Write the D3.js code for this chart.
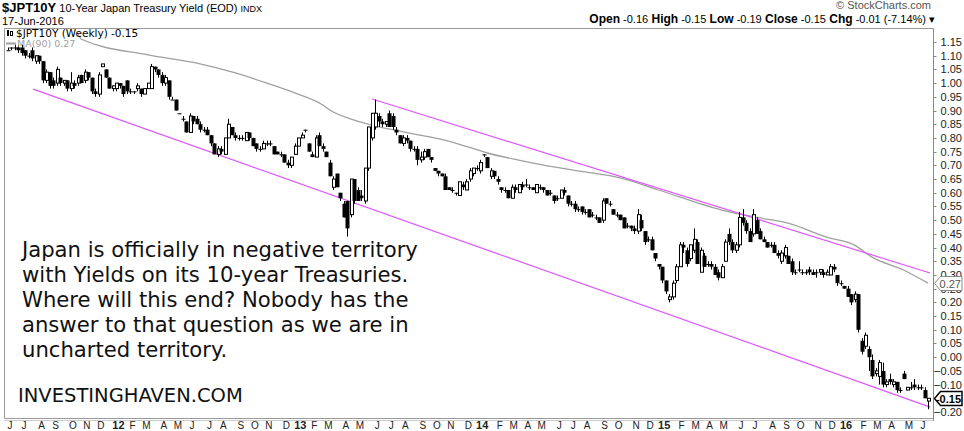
<!DOCTYPE html>
<html>
<head>
<meta charset="utf-8">
<script src="https://cdn.jsdelivr.net/npm/d3@7"></script>
<style>
  body { margin: 0; background: #fff; }
  svg { display: block; }
</style>
</head>
<body>
<div id="chart"></div>
<script>
"use strict";

// SECTION: data (weekly bars, yields in basis points)
const firstWeek = new Date(2011, 5, 3);
const lastWeek = new Date(2016, 5, 17);

const openBp = [112,113,113,113,113,112,110,112,108,110, 108,101,104,101,100,102,100,101,98,100,
  100,103,101,104,102,97,96,106,105,102, 98,98,100,99,101,97,97,98,98,96,
  98,98,106,105,103,100,101,94,94,89, 87,86,82,88,87,85,83,83,81,78,
  74,76,74,80,84,81,80,80,79,82,80, 78,76,76,78,78,77,75,74,74,71,
  70,74,77,80,83,78,74,73,81,77, 75,71,62,67,60,56,57,52,65,61,
  59,57,69,80,84,88,86,85,89,88, 83,81,78,80,79,76,76,72,73,76,
  73,69,68,67,66,62,61,60,59,63, 61,65,67,69,68,74,73,66,68,65,
  62,61,61,58,62,60,63,63,62,62, 60,62,62,61,60,59,58,58,61,59,
  56,56,54,55,53,54,52,51,51,50, 58,56,54,52,52,51,48,48,47,46,
  50,46,43,43,38,34,33,28,21,22, 28,33,41,39,36,39,42,31,37,34,34,
  33,31,29,35,45,42,39,41,51,49, 46,45,50,46,43,42,41,41,38,35,
  37,37,35,31,32,31,31,32,31,31, 31,31,30,30,33,30,27,26,25,23,
  21,23,6,4,3,-1,-6,-7,-5,-10, -8,-10,-9,-12,-6,-12,-11,-10,-11,-11,
  -12,-16];
const highBp = [113,113,114,114,114,112,111,113,110,110, 108,105,104,102,106,102,101,101,104,101,
  103,103,105,104,102,98,104,107,105,102, 99,100,100,99,101,98,97,100,98,98,
  100,107,106,105,104,103,101,95,94,89, 88,86,89,88,88,86,84,84,81,78,
  77,77,80,87,84,82,81,81,82,82,80, 78,77,79,79,79,77,75,75,74,72,
  73,78,80,82,83,78,75,81,82,78, 75,72,66,67,60,57,57,65,65,62,
  61,69,84,89,94,89,87,86,90,89, 84,81,81,81,79,77,77,75,76,76,
  73,69,68,67,67,62,62,60,64,64, 65,69,69,70,72,74,73,69,68,66,
  62,62,61,63,63,63,64,65,63,62, 63,63,62,61,61,59,59,61,62,59,
  57,57,55,55,54,54,53,52,51,58, 58,57,54,53,52,51,49,48,48,54,
  52,46,44,44,38,34,33,28,23,28, 34,42,42,40,41,47,43,40,38,35,35,
  34,32,34,43,47,43,42,53,54,50, 47,54,51,47,44,42,42,42,39,39,
  41,37,36,32,35,32,32,33,32,32, 32,32,32,34,34,30,28,26,26,23,
  24,23,7,9,4,1,-4,-1,-2,-8, -6,-8,-9,-11,-5,-11,-9,-8,-10,-10,
  -11,-15];
const lowBp = [112,112,112,111,110,109,109,108,107,107, 100,100,98,98,99,99,99,97,97,98,
  99,100,100,101,96,95,95,106,102,98, 97,97,98,95,96,96,96,97,95,96,
  98,98,104,102,99,99,94,94,90,89, 86,82,82,85,85,82,82,81,77,74,
  73,74,74,80,81,79,79,79,79,79,77, 75,75,76,77,77,74,74,73,71,69,
  69,74,77,80,82,75,73,73,77,75, 73,66,61,62,57,51,44,51,56,57,
  57,56,68,79,83,84,84,84,84,83, 81,78,77,78,75,75,70,71,72,73,
  71,68,66,66,61,61,60,59,59,61, 61,64,66,68,67,73,69,65,65,63,
  60,60,58,58,60,60,61,62,61,61, 60,61,60,59,59,56,57,58,59,55,
  55,53,53,52,52,51,51,50,49,49, 56,55,52,51,50,47,47,46,45,45,
  46,41,42,39,35,32,27,23,20,21, 27,33,38,33,35,38,34,31,33,33,32,
  30,28,29,35,41,38,38,40,48,45, 42,44,45,43,42,40,40,38,36,34,
  36,34,30,30,31,30,30,30,30,29, 30,29,30,30,31,26,26,25,22,19,
  20,9,1,3,-5,-8,-7,-10,-11,-11, -10,-11,-13,-13,-8,-12,-12,-12,-12,-12,
  -15,-19];
const closeBp = [112,113,113,112,111,110,110,109,110,108, 101,104,99,99,105,100,101,98,100,99,
  102,100,104,102,97,96,103,107,102,98, 99,100,99,96,97,97,97,99,96,98,
  100,106,105,103,100,102,95,94,90,89, 87,82,88,86,85,83,83,81,78,74,
  76,75,80,85,81,80,80,80,82,80,77, 76,76,78,78,78,74,74,74,71,70,
  73,77,80,81,83,75,73,80,77,76, 73,66,65,62,58,51,47,65,57,57,
  58,69,84,89,89,86,85,86,84,84, 82,78,80,79,76,76,72,73,75,73,
  72,68,67,66,61,61,61,60,64,62, 64,68,69,69,71,74,69,68,66,64,
  61,61,58,62,61,63,62,63,62,61, 63,62,61,59,60,57,58,61,60,56,
  56,54,54,53,53,51,52,51,49,57, 56,56,52,52,50,47,48,47,46,52,
  47,42,43,39,36,33,28,24,22,27, 33,41,40,34,41,43,34,39,33,34,33,
  30,29,33,42,42,39,41,51,49,46, 42,52,45,43,42,40,41,38,37,38,
  40,34,31,31,32,31,31,31,30,31, 32,30,31,33,32,27,27,25,22,20,
  23,10,2,8,0,-7,-5,-2,-10,-9, -9,-9,-12,-12,-8,-11,-11,-11,-11,-11,
  -15,-15];

// MA(90): week number and value
const maWeek  = [20, 21, 40, 54, 65, 74, 82, 90, 92, 99, 104, 113, 127, 137, 146, 156, 165, 175, 186, 204, 215, 223, 234, 242, 247, 256, 263];
const maValue = [1.18, 1.16, 1.103, 1.073, 1.037, 1.0, 0.964, 0.92, 0.902, 0.865, 0.847, 0.822, 0.785, 0.745, 0.719, 0.694, 0.676, 0.654, 0.61, 0.537, 0.508, 0.489, 0.438, 0.409, 0.365, 0.318, 0.27];

// trend channel drawn on the chart: [week, value]
const lowerChannel = [[7.2, 0.978], [263.6, -0.182]];
const upperChannel = [[104.1, 0.942], [263.6, 0.307]];

const yTicks = [1.15, 1.10, 1.05, 1.00, 0.95, 0.90, 0.85, 0.80, 0.75, 0.70, 0.65, 0.60, 0.55, 0.50, 0.45, 0.40,
  0.35, 0.30, 0.25, 0.20, 0.15, 0.10, 0.05, 0.00, -0.05, -0.10, -0.15, -0.20];
const monthLetters = ["J","F","M","A","M","J","J","A","S","O","N","D"];

const noteLines = [
  "Japan is officially in negative territory",
  "with Yields on its 10-year Treasuries.",
  "Where will this end? Nobody has the",
  "answer to that question as we are in",
  "uncharted territory."
];

// SECTION: build bars
const weeks = d3.timeFriday.range(firstWeek, d3.timeDay.offset(lastWeek, 1));
const bars = weeks.map((d, i) => ({
  date: d, i: i,
  o: openBp[i] / 100, h: highBp[i] / 100, l: lowBp[i] / 100, c: closeBp[i] / 100
}));

const W = 964, H = 431;
const plot = { left: 4.5, right: 933.5, top: 28.5, bottom: 418.5 };

const x = d3.scaleLinear().domain([0, weeks.length - 1]).range([8, 928]);
const y = d3.scaleLinear().domain([-0.20, 1.15]).range([412, 42]);

const svg = d3.select("#chart").append("svg")
  .attr("width", W).attr("height", H)
  .style("font-family", "'Liberation Sans', Arial, sans-serif");

svg.append("defs").append("clipPath").attr("id", "plotclip")
  .append("rect")
  .attr("x", plot.left).attr("y", plot.top)
  .attr("width", plot.right - plot.left).attr("height", plot.bottom - plot.top);

// SECTION: header
const title = svg.append("text").attr("x", 2).attr("y", 12).attr("fill", "#000");
title.append("tspan").style("font-weight", "bold").style("font-size", "13px").text("$JPT10Y");
title.append("tspan").style("font-size", "11px").text(" 10-Year Japan Treasury Yield (EOD) ");
title.append("tspan").style("font-size", "9px").text("INDX");

svg.append("text").attr("x", 2).attr("y", 25).style("font-size", "11px").text("17-Jun-2016");

svg.append("text").attr("x", 931).attr("y", 9).attr("text-anchor", "end")
  .style("font-size", "11px").attr("fill", "#555").text("\u00A9 StockCharts.com");

const quote = svg.append("text").attr("x", 935).attr("y", 23).attr("text-anchor", "end")
  .style("font-size", "11px").attr("fill", "#000");
[["Open", "-0.16"], ["High", "-0.15"], ["Low", "-0.19"], ["Close", "-0.15"], ["Chg", "-0.01 (-7.14%) \u25BE"]]
  .forEach((p, k) => {
    quote.append("tspan").style("font-weight", "bold").style("font-size", "12px").text((k ? "  " : "") + p[0]);
    quote.append("tspan").text(" " + p[1]);
  });

// SECTION: frame and axes
svg.append("line").attr("x1", plot.left).attr("x2", plot.right).attr("y1", plot.top).attr("y2", plot.top)
  .attr("stroke", "#999");
svg.append("line").attr("x1", plot.left).attr("x2", plot.left).attr("y1", plot.top).attr("y2", plot.bottom)
  .attr("stroke", "#999");
svg.append("line").attr("x1", plot.left).attr("x2", plot.right).attr("y1", plot.bottom).attr("y2", plot.bottom)
  .attr("stroke", "#999");
svg.append("line").attr("x1", plot.right).attr("x2", plot.right).attr("y1", plot.top).attr("y2", plot.bottom + 2)
  .attr("stroke", "#888");
svg.append("line").attr("x1", plot.left).attr("x2", plot.right).attr("y1", plot.bottom + 2).attr("y2", plot.bottom + 2)
  .attr("stroke", "#999").attr("stroke-dasharray", "1,1");

const yAxis = svg.append("g");
yAxis.selectAll("line").data(yTicks).enter().append("line")
  .attr("x1", plot.right).attr("x2", plot.right + 3)
  .attr("y1", d => Math.round(y(d)) + 0.5).attr("y2", d => Math.round(y(d)) + 0.5)
  .attr("stroke", "#888");
yAxis.selectAll("text").data(yTicks).enter().append("text")
  .attr("x", 962).attr("y", d => y(d) + 4)
  .attr("text-anchor", "end")
  .style("font-size", "11px").attr("fill", "#222")
  .text(d => d3.format(".2f")(d));

// month labels at the first bar of each month
const monthStarts = bars.filter((b, i) => i === 0 || b.date.getMonth() !== bars[i - 1].date.getMonth());
svg.append("g").selectAll("text").data(monthStarts).enter().append("text")
  .attr("x", d => x(d.i) + 2).attr("y", 429)
  .attr("text-anchor", "middle")
  .style("font-size", d => d.date.getMonth() === 0 ? "11px" : "10px")
  .style("font-weight", d => d.date.getMonth() === 0 ? "bold" : "normal")
  .attr("fill", "#222")
  .text(d => d.date.getMonth() === 0 ? d3.timeFormat("%y")(d.date) : monthLetters[d.date.getMonth()]);

// SECTION: chart body
const body = svg.append("g").attr("clip-path", "url(#plotclip)");

const ma = d3.line().x((d, k) => x(maWeek[k])).y(d => y(d)).curve(d3.curveMonotoneX);
body.append("path").attr("d", ma(maValue))
  .attr("fill", "none").attr("stroke", "#a0a0a0").attr("stroke-width", 1.3);

[lowerChannel, upperChannel].forEach(seg => {
  body.append("line")
    .attr("x1", x(seg[0][0])).attr("y1", y(seg[0][1]))
    .attr("x2", x(seg[1][0])).attr("y2", y(seg[1][1]))
    .attr("stroke", "#dd55ff").attr("stroke-width", 1.2);
});

const candles = body.append("g");
candles.selectAll("line.wick").data(bars).enter().append("line")
  .attr("class", "wick")
  .attr("x1", d => Math.round(x(d.i)) + 0.5).attr("x2", d => Math.round(x(d.i)) + 0.5)
  .attr("y1", d => y(d.h)).attr("y2", d => y(d.l))
  .attr("stroke", "#000").attr("stroke-width", 1);

candles.selectAll("rect").data(bars).enter().append("rect")
  .attr("x", d => Math.round(x(d.i)) - 1)
  .attr("y", d => y(Math.max(d.o, d.c)))
  .attr("width", d => d.c > d.o ? 3 : 4)
  .attr("height", d => Math.max(1, y(Math.min(d.o, d.c)) - y(Math.max(d.o, d.c))))
  .attr("fill", d => d.c > d.o ? "#fff" : "#000")
  .attr("stroke", d => d.c > d.o ? "#000" : "none")
  .attr("stroke-width", 1)
  .attr("transform", d => d.c > d.o ? "translate(0.5,0)" : "translate(-0.5,0)");

// SECTION: legend inside the plot
const leg = svg.append("g").style("font-family", "'DejaVu Sans', Verdana, sans-serif").style("font-size", "10.5px");
leg.append("rect").attr("x", 7).attr("y", 30).attr("width", 2).attr("height", 6).attr("fill", "#000");
leg.append("rect").attr("x", 10.5).attr("y", 31.5).attr("width", 2).attr("height", 4).attr("fill", "#fff").attr("stroke", "#000");
leg.append("text").attr("x", 16).attr("y", 36.5).attr("fill", "#000").text("$JPT10Y (Weekly) -0.15");
leg.append("line").attr("x1", 6).attr("x2", 16).attr("y1", 43.5).attr("y2", 43.5).attr("stroke", "#a0a0a0").attr("stroke-width", 2);
leg.append("text").attr("x", 17).attr("y", 47).attr("fill", "#a0a0a0").style("font-size", "9.5px").text("MA(90) 0.27");

// SECTION: value tags on the right axis
function tag(v, label, dark) {
  const yy = Math.round(y(v)) + 0.5;
  svg.append("path")
    .attr("d", `M${plot.right + 1},${yy} L${plot.right + 7},${yy - 7} H962 V${yy + 7} H${plot.right + 7} Z`)
    .attr("fill", "#fff").attr("stroke", dark ? "#000" : "#888").attr("stroke-width", dark ? 1.5 : 1);
  svg.append("text").attr("x", 961).attr("y", yy + 4).attr("text-anchor", "end")
    .style("font-size", "11px").style("font-weight", dark ? "bold" : "normal")
    .attr("fill", dark ? "#000" : "#555").text(label);
}
tag(maValue[maValue.length - 1], "0.27", false);
tag(bars[bars.length - 1].c, "-0.15", true);

// SECTION: annotation text
const note = svg.append("g").style("font-family", "'DejaVu Sans', Verdana, sans-serif").attr("fill", "#111");
const noteText = note.selectAll("text").data(noteLines).enter().append("text")
  .attr("x", 22).attr("y", (d, k) => 257 + k * 25)
  .style("font-size", "18px")
  .text(d => d);
// first line runs out to about x = 418 in the original
const firstLen = noteText.node().getComputedTextLength();
noteText.style("font-size", (18 * 396 / firstLen).toFixed(2) + "px");
note.append("text").attr("x", 18).attr("y", 402).style("font-size", "19.5px").text("INVESTINGHAVEN.COM");
</script>
</body>
</html>
